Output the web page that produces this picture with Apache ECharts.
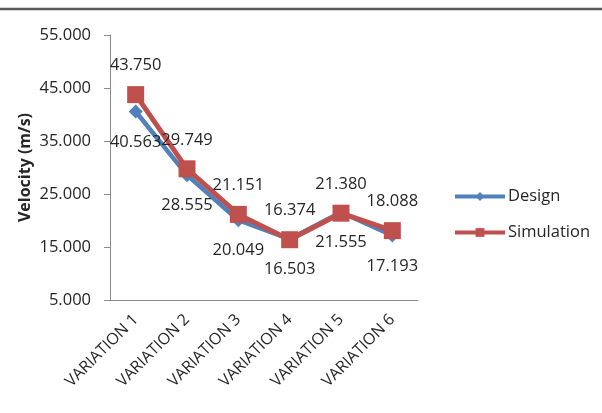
<!DOCTYPE html>
<html>
<head>
<meta charset="utf-8">
<script src="https://cdn.jsdelivr.net/npm/echarts@6/dist/echarts.min.js"></script>
<style>
  html, body { margin: 0; padding: 0; background: #fff; }
  #chart { width: 602px; height: 413px; }
</style>
</head>
<body>
<div id="chart"></div>
<script>
// Velocity per geometry variation: design target vs. simulated result
const categories = ['VARIATION 1', 'VARIATION 2', 'VARIATION 3', 'VARIATION 4', 'VARIATION 5', 'VARIATION 6'];
const designValues = [40.563, 28.555, 20.049, 16.503, 21.555, 17.193];
const simulationValues = [43.750, 29.749, 21.151, 16.374, 21.380, 18.088];
const yTicks = [5, 15, 25, 35, 45, 55];

const FONT = 'Open Sans';
const TEXT = '#262626';

const chart = echarts.init(document.getElementById('chart'), null, { renderer: 'canvas' });

chart.setOption({
  backgroundColor: '#fff',
  animation: false,
  textStyle: { fontFamily: FONT },
  graphic: [{
    type: 'line',
    shape: { x1: 0, y1: 9, x2: 602, y2: 9 },
    style: { stroke: '#5a5a5a', lineWidth: 2.5 }
  }],
  grid: { left: 110, top: 35, right: 184, bottom: 113, containLabel: false },
  legend: {
    orient: 'vertical',
    left: 453,
    top: 188,
    padding: 0,
    itemWidth: 50,
    itemHeight: 11,
    itemGap: 19,
    lineStyle: { width: 4 },
    textStyle: { fontFamily: FONT, fontSize: 16.5, color: TEXT, padding: [0, 0, 0, -2] },
    data: ['Design', 'Simulation']
  },
  xAxis: {
    type: 'category',
    data: categories,
    boundaryGap: true,
    axisLine: { lineStyle: { color: '#8c8c8c', width: 1 } },
    axisTick: { show: false },
    axisLabel: { rotate: 45, margin: 17, fontFamily: FONT, fontSize: 16, color: TEXT, interval: 0 }
  },
  yAxis: {
    type: 'value',
    min: 5,
    max: 55,
    name: 'Velocity (m/s)',
    nameLocation: 'middle',
    nameGap: 77,
    nameMoveOverlap: false,
    nameTextStyle: { fontFamily: FONT, fontSize: 16, fontWeight: 'bold', color: TEXT },
    splitLine: { show: false },
    axisLine: { show: true, lineStyle: { color: '#8c8c8c', width: 1 } },
    axisTick: { show: true, length: 6, lineStyle: { color: '#8c8c8c' }, customValues: yTicks },
    axisLabel: {
      margin: 19, fontFamily: FONT, fontSize: 16.5, color: TEXT,
      customValues: yTicks,
      formatter: v => v.toFixed(3)
    }
  },
  series: [
    {
      name: 'Design',
      type: 'line',
      data: designValues,
      symbol: 'diamond',
      symbolSize: 14,
      lineStyle: { color: '#4F81BD', width: 4.5 },
      itemStyle: { color: '#4F81BD' },
      label: {
        show: true, position: 'bottom', distance: 15,
        fontFamily: FONT, fontSize: 16.5, color: TEXT,
        formatter: p => p.value.toFixed(3)
      }
    },
    {
      name: 'Simulation',
      type: 'line',
      data: simulationValues,
      symbol: 'rect',
      symbolSize: 17,
      lineStyle: { color: '#C0504D', width: 5 },
      itemStyle: { color: '#C0504D' },
      label: {
        show: true, position: 'top', distance: 12,
        fontFamily: FONT, fontSize: 16.5, color: TEXT,
        formatter: p => p.value.toFixed(3)
      }
    }
  ]
});
</script>
</body>
</html>
